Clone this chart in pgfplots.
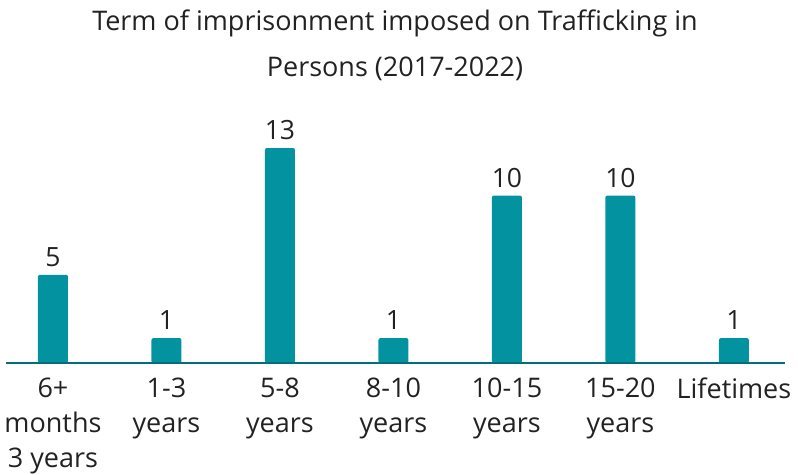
\documentclass[border=0pt]{standalone}
\usepackage{fontspec}
\setmainfont{Open Sans}
\usepackage{pgfplots}
\pgfplotsset{compat=1.18}
\definecolor{barteal}{HTML}{0393A0}
\definecolor{txt}{HTML}{222222}
\begin{document}
\begin{tikzpicture}[x=1pt,y=1pt]
\begin{axis}[
  name=ax,
  at={(0,0)}, anchor=south west,
  scale only axis,
  width=779pt, height=215pt,
  xmin=-0.414, xmax=6.45,
  ymin=0, ymax=13.57,
  axis line style={draw=none},
  axis x line*=bottom,
  hide y axis,
  ytick=\empty,
  xtick={0,1,2,3,4,5,6},
  xticklabels={{6+\\months\\3 years},{1-3\\years},{5-8\\years},{8-10\\years},{10-15\\years},{15-20\\years},{Lifetimes}},
  xticklabel style={align=center, font=\fontsize{27}{35}\selectfont, text=txt, anchor=north, inner sep=0pt, yshift=-15pt},
  major tick length=0pt,
  ybar, bar width=30pt,
  nodes near coords,
  point meta=explicit,
  /pgf/number format/assume math mode=true,
  nodes near coords style={font=\fontsize{26.5}{30}\selectfont, text=txt, inner sep=0pt, anchor=south, yshift=8pt},
  clip=false,
]
\addplot[fill=barteal, draw=none, rounded corners=2pt] table[x=x, y expr=\thisrow{v}+0.57, meta=v] {
x v
0 5
1 1
2 13
3 1
4 10
5 10
6 1
};
\draw[barteal!75!black, line width=1.3pt] (axis cs:-0.414,0) -- (axis cs:6.45,0);
\end{axis}
\node[text=txt, font=\fontsize{27}{46}\selectfont, align=center] at (389pt,318pt) {Term of imprisonment imposed on Trafficking in\\Persons (2017-2022)};
\path[use as bounding box] (-6pt,-110pt) rectangle (792pt,363pt);
\end{tikzpicture}
\end{document}
